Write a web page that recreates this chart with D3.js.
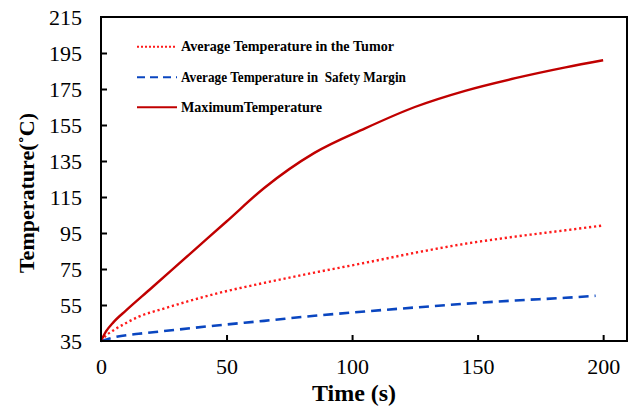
<!DOCTYPE html>
<html><head><meta charset="utf-8">
<script src="https://cdn.jsdelivr.net/npm/d3@7/dist/d3.min.js"></script>
<style>body{margin:0;background:#fff}svg{display:block}</style>
</head><body><svg id="c" width="631" height="409"></svg>
<script>
const timeMax = [0, 2, 5, 10, 20, 35, 50, 65, 85, 105, 125, 145, 165, 185, 200];
const maxTemp = [35, 40.3, 45.5, 52, 64.3, 82.9, 101.4, 120, 139.5, 153, 165, 174, 181, 187, 191];
const timeTumor = [0, 2, 5, 10, 15, 25, 45, 65, 85, 105, 125, 145, 165, 185, 200];
const tumorTemp = [35, 38, 41, 45, 48.5, 53, 61, 67.3, 73, 78.4, 84, 89, 93, 96.5, 99.2];
const timeMargin = [0, 5, 15, 25, 45, 65, 85, 105, 125, 145, 165, 185, 197];
const marginTemp = [35, 37, 39, 40.5, 43.5, 46.2, 49, 51.4, 53.6, 55.7, 57.5, 59, 60.1];
const yTicks = [35, 55, 75, 95, 115, 135, 155, 175, 195, 215];
const xTicks = [0, 50, 100, 150, 200];
const seriesNames = ["Average Temperature in the Tumor", "Average Temperature in  Safety Margin", "MaximumTemperature"];

const svg = d3.select("#c");
const L = 101, R = 627, T = 17, B = 341;
const x = d3.scaleLinear().domain([0, 209.5]).range([L, R]);
const y = d3.scaleLinear().domain([35, 215]).range([B, T]);
const serif = "'Liberation Serif','Times New Roman',serif";

const series = [
  {t: timeTumor, v: tumorTemp, color: "#FF1A1A", dash: "2.2,2.8", w: 2.4},
  {t: timeMargin, v: marginTemp, color: "#0A46C0", dash: "10,6", w: 2.6},
  {t: timeMax, v: maxTemp, color: "#C00000", dash: null, w: 2.4}
];

const line = d3.line().x(d => x(d[0])).y(d => y(d[1])).curve(d3.curveMonotoneX);
series.forEach(s => {
  const pts = s.t.map((t, i) => [t, s.v[i]]);
  svg.append("path").attr("d", line(pts)).attr("fill", "none")
    .attr("stroke", s.color).attr("stroke-width", s.w)
    .attr("stroke-linejoin", "round")
    .attr("stroke-dasharray", s.dash);
});

// frame
svg.append("rect").attr("x", L).attr("y", T).attr("width", R - L).attr("height", B - T)
  .attr("fill", "none").attr("stroke", "#000").attr("stroke-width", 2);

// y axis
const yAxis = d3.axisLeft(y).tickValues(yTicks).tickSize(-6).tickPadding(19).tickFormat(d3.format("d"));
const gy = svg.append("g").attr("transform", `translate(${L},0)`).call(yAxis);
gy.select(".domain").remove();
gy.selectAll(".tick line").attr("stroke", "#000").attr("stroke-width", 2)
  .filter(d => d === 215 || d === 35).remove();
gy.selectAll(".tick text").attr("font-family", serif).attr("font-size", 22).attr("fill", "#000");

// x axis
const xAxis = d3.axisBottom(x).tickValues(xTicks).tickSize(-6).tickPadding(17).tickFormat(d3.format("d"));
const gx = svg.append("g").attr("transform", `translate(0,${B})`).call(xAxis);
gx.select(".domain").remove();
gx.selectAll(".tick line").attr("stroke", "#000").attr("stroke-width", 2)
  .filter(d => d === 0).remove();
gx.selectAll(".tick text").attr("font-family", serif).attr("font-size", 22).attr("fill", "#000");

// axis titles
svg.append("text").attr("x", 354).attr("y", 401).attr("text-anchor", "middle")
  .attr("font-family", serif).attr("font-weight", "bold").attr("font-size", 24).text("Time (s)");
svg.append("text").attr("transform", "translate(34,193) rotate(-90)").attr("text-anchor", "middle")
  .attr("font-family", serif).attr("font-weight", "bold").attr("font-size", 22).text("Temperature(˚C)");

// legend
const lg = svg.append("g");
const rowsY = [46.7, 77.3, 107.3];
const textLens = [213, 225, 141];
series.forEach((s, i) => {
  lg.append("line").attr("x1", 137).attr("x2", 177).attr("y1", rowsY[i]).attr("y2", rowsY[i])
    .attr("stroke", s.color).attr("stroke-width", 2).attr("stroke-dasharray", i === 0 ? "2,2" : (i === 1 ? "8,5" : null));
  lg.append("text").attr("x", 181).attr("y", rowsY[i] + 4.3)
    .style("white-space", "pre")
    .attr("textLength", textLens[i]).attr("lengthAdjust", "spacingAndGlyphs")
    .attr("font-family", serif).attr("font-weight", "bold").attr("font-size", 15).text(seriesNames[i]);
});
</script></body></html>
